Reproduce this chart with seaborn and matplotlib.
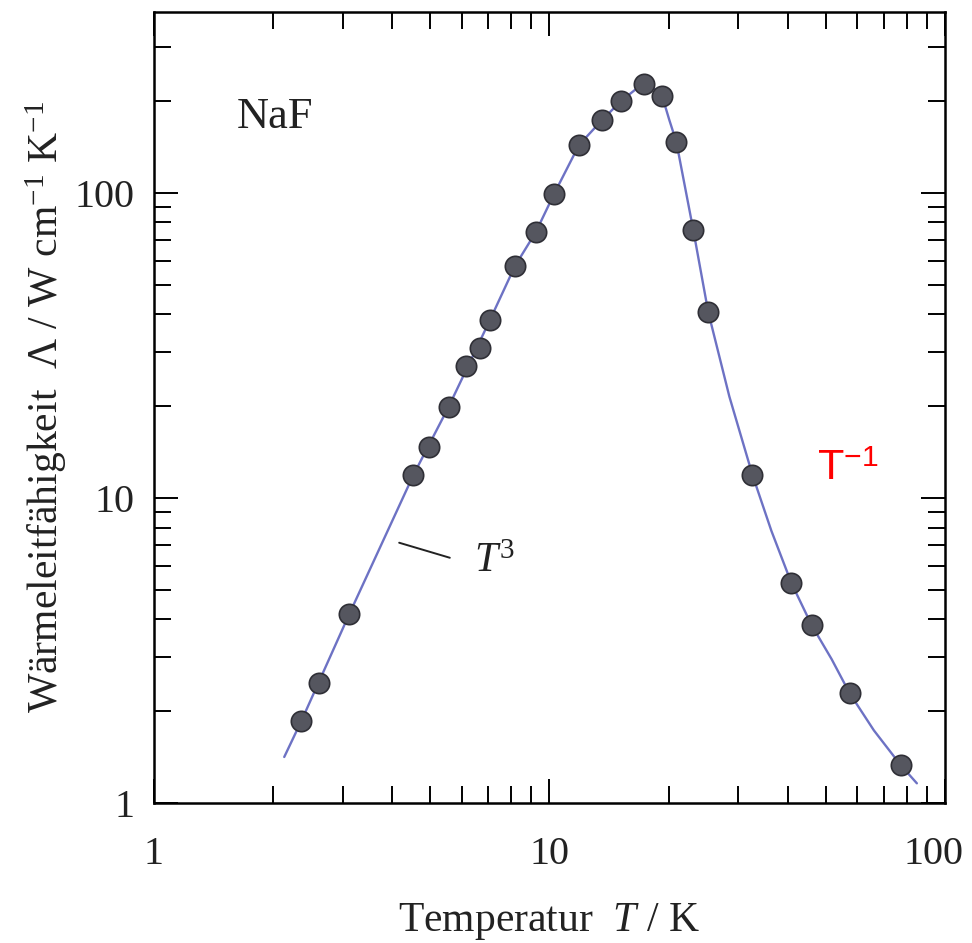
import numpy as np
import pandas as pd
import matplotlib
matplotlib.use("Agg")
import matplotlib.pyplot as plt
import matplotlib.transforms as mtransforms
import seaborn as sns

# -----------------------------
# Data
# -----------------------------
# measured points: temperature T / K and thermal conductivity / W cm^-1 K^-1
temp_pts = [2.36, 2.62, 3.12, 4.53, 4.95, 5.56, 6.14, 6.67, 7.07, 8.18,
            9.24, 10.27, 11.88, 13.59, 15.18, 17.36, 19.2, 20.9, 23.1, 25.2,
            32.6, 40.9, 46.0, 57.4, 77.3]
cond_pts = [1.86, 2.47, 4.17, 11.9, 14.7, 19.9, 27.1, 31.0, 38.3, 57.6,
            74.5, 99.2, 143.7, 173.5, 200.0, 227.8, 208.0, 147.0, 75.6, 40.7,
            11.9, 5.27, 3.83, 2.29, 1.33]

# fitted curve, sampled along the drawn line
curve_t = [2.135, 2.36, 3.12, 4.53, 5.56, 7.07, 8.18, 9.24, 10.27, 11.88,
           13.59, 15.18, 16.57, 17.56, 18.62, 19.4, 20.09, 20.93, 23.1, 25.2,
           28.5, 32.6, 36.4, 40.9, 46.0, 51.7, 57.4, 66.1, 77.3, 84.9]
curve_k = [1.415, 1.86, 4.17, 11.9, 19.9, 38.3, 57.6, 74.5, 99.2, 143.7,
           173.5, 200.3, 219.3, 226.0, 217.6, 201.8, 173.5, 147.0, 75.6, 40.7,
           21.5, 11.9, 7.8, 5.26, 3.83, 2.96, 2.29, 1.73, 1.33, 1.16]

x_ticks = [1, 10, 100]
y_ticks = [1, 10, 100]

pts = pd.DataFrame({"T": temp_pts, "k": cond_pts})
fit = pd.DataFrame({"T": curve_t, "k": curve_k})

# -----------------------------
# Style
# -----------------------------
sns.set_style("ticks")
plt.rcParams["font.family"] = ["Liberation Serif", "DejaVu Serif"]
plt.rcParams["mathtext.fontset"] = "custom"
plt.rcParams["mathtext.rm"] = "Liberation Serif"
plt.rcParams["mathtext.it"] = "Liberation Serif:italic"
plt.rcParams["mathtext.sf"] = "Liberation Sans"

TXT = "#222222"

fig, ax = plt.subplots(figsize=(9.72, 9.43), dpi=100)
fig.subplots_adjust(left=0.1584, right=0.9722, bottom=0.1485, top=0.9873)

sns.lineplot(data=fit, x="T", y="k", sort=False, color="#6d72c4",
             linewidth=1.7, ax=ax, zorder=2)
sns.scatterplot(data=pts, x="T", y="k", s=215, color="#55565f",
                edgecolor="#2f2f36", linewidth=1.2, ax=ax, zorder=3)

ax.set_xscale("log")
ax.set_yscale("log")
ax.set_xlim(1, 100)
ax.set_ylim(1, 392)
ax.set_xticks(x_ticks)
ax.set_xticklabels([str(v) for v in x_ticks])
ax.set_yticks(y_ticks)
ax.set_yticklabels([str(v) for v in y_ticks])

ax.tick_params(which="both", direction="in", top=True, right=True,
               color="black", width=1.4)
ax.tick_params(which="major", length=17, labelsize=29, labelcolor=TXT)
ax.tick_params(axis="x", which="major", pad=24)
ax.tick_params(axis="y", which="major", pad=14)
ax.tick_params(which="minor", length=12)
ax.tick_params(which="minor", labelbottom=False, labelleft=False)
for sp in ax.spines.values():
    sp.set_linewidth(1.8)
    sp.set_color("black")

# nudge the "100" label on the x axis so it stays inside the figure
last = ax.get_xticklabels()[-1]
last.set_transform(last.get_transform() +
                   mtransforms.ScaledTranslation(-8 / 72, 0, fig.dpi_scale_trans))

ax.set_xlabel(r"Temperatur  $T$ / K", fontsize=30, labelpad=20, color=TXT)
ax.set_ylabel(r"Wärmeleitfähigkeit  $\Lambda$ / W cm$^{-1}$ K$^{-1}$",
              fontsize=30, labelpad=4, color=TXT)

# annotations
ax.text(0.153, 0.867, "NaF", transform=ax.transAxes, fontsize=32,
        ha="center", va="center", color=TXT)
ax.plot([0.31, 0.374], [0.329, 0.310], transform=ax.transAxes,
        color=TXT, linewidth=1.4)
ax.text(0.405, 0.305, r"$T^3$", transform=ax.transAxes, fontsize=30,
        ha="left", va="center", color=TXT)
ax.text(0.838, 0.421, r"$\mathsf{T}^{\mathsf{-1}}$", transform=ax.transAxes,
        fontsize=31, ha="left", va="center", color="red")

plt.savefig("out.png", dpi=100)
plt.close()
